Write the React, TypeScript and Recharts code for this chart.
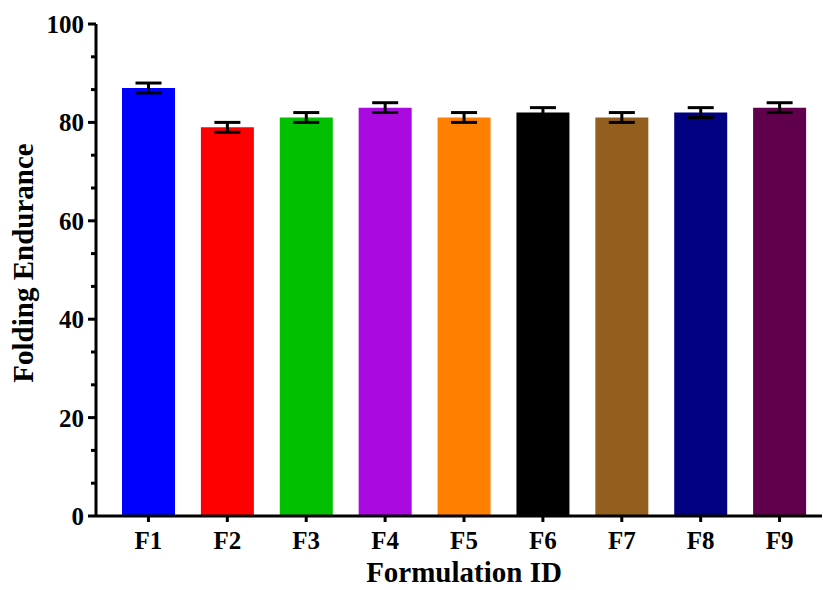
import React from 'react';
import { BarChart, Bar, XAxis, YAxis, Cell, ErrorBar, Label } from 'recharts';

// Folding endurance per formulation (mean ± SD)
const FORMULATIONS = ['F1', 'F2', 'F3', 'F4', 'F5', 'F6', 'F7', 'F8', 'F9'];
const ENDURANCE = [87, 79, 81, 83, 81, 82, 81, 82, 83];
const SD = [1, 1, 1, 1, 1, 1, 1, 1, 1];
const BAR_COLORS = ['#0000FF', '#FF0000', '#00C000', '#AA0ADF', '#FF8000', '#000000', '#925F1F', '#000080', '#60004C'];

const MAJOR_TICKS = [0, 20, 40, 60, 80, 100];
const MINOR_PER_MAJOR = 3;

const FONT = "'Liberation Serif', 'Times New Roman', serif";

const data = FORMULATIONS.map((name, i) => ({ name, value: ENDURANCE[i], err: SD[i] }));

// major ticks plus the minor ones in between (GraphPad style)
const yTicks: number[] = [];
MAJOR_TICKS.forEach((t, i) => {
  yTicks.push(t);
  if (i < MAJOR_TICKS.length - 1) {
    const step = (MAJOR_TICKS[i + 1] - t) / MINOR_PER_MAJOR;
    for (let k = 1; k < MINOR_PER_MAJOR; k++) yTicks.push(t + k * step);
  }
});

const Y_TICK_SIZE = 8;
const Y_TICK_MARGIN = 4;

function YTick(props: any) {
  const { x, y, payload } = props;
  const axisX = x + Y_TICK_SIZE + Y_TICK_MARGIN;
  const isMajor = MAJOR_TICKS.some((t) => Math.abs(t - payload.value) < 1e-6);
  return (
    <g>
      <line
        x1={axisX - (isMajor ? Y_TICK_SIZE : 5)}
        x2={axisX}
        y1={y}
        y2={y}
        stroke="#000"
        strokeWidth={3}
      />
      {isMajor && (
        <text
          x={x}
          y={y}
          dy="0.36em"
          textAnchor="end"
          fontFamily={FONT}
          fontWeight="bold"
          fontSize={25}
          fill="#000"
        >
          {payload.value}
        </text>
      )}
    </g>
  );
}

export default function App() {
  return (
    <div style={{ position: 'absolute', left: 0, top: 0, background: '#fff' }}>
      <BarChart
        width={823}
        height={590}
        data={data}
        margin={{ top: 24, right: 1, left: 0, bottom: 0 }}
        barSize={53}
      >
        <XAxis
          dataKey="name"
          height={74}
          padding={{ left: 13, right: 3 }}
          axisLine={{ stroke: '#000', strokeWidth: 3 }}
          tickLine={{ stroke: '#000', strokeWidth: 3 }}
          tickSize={6}
          tickMargin={9}
          tick={{ fill: '#000', fontFamily: FONT, fontWeight: 'bold', fontSize: 25 }}
        >
          <Label
            content={() => (
              <text
                x={464}
                y={582}
                textAnchor="middle"
                fontFamily={FONT}
                fontWeight="bold"
                fontSize={29}
                fill="#000"
              >
                Formulation ID
              </text>
            )}
          />
        </XAxis>
        <YAxis
          width={96}
          domain={[0, 100]}
          ticks={yTicks}
          interval={0}
          allowDecimals
          axisLine={{ stroke: '#000', strokeWidth: 3 }}
          tickLine={{ stroke: 'none' }}
          tickSize={Y_TICK_SIZE}
          tickMargin={Y_TICK_MARGIN}
          tick={<YTick />}
        >
          <Label
            content={() => (
              <text
                x={33}
                y={263}
                transform="rotate(-90, 33, 263)"
                textAnchor="middle"
                fontFamily={FONT}
                fontWeight="bold"
                fontSize={29}
                fill="#000"
              >
                Folding Endurance
              </text>
            )}
          />
        </YAxis>
        <Bar dataKey="value" isAnimationActive={false}>
          {data.map((d, i) => (
            <Cell key={d.name} fill={BAR_COLORS[i]} />
          ))}
          <ErrorBar dataKey="err" width={13} stroke="#000" strokeWidth={3} isAnimationActive={false} />
        </Bar>
      </BarChart>
    </div>
  );
}
